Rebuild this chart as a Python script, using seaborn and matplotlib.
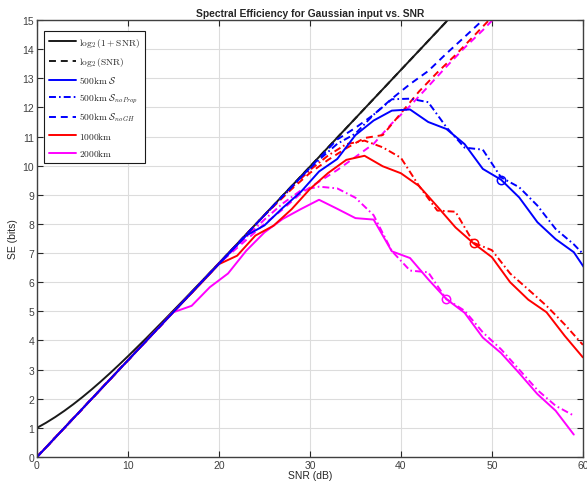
import numpy as np
import pandas as pd
import matplotlib
matplotlib.use("Agg")
import matplotlib.pyplot as plt
import seaborn as sns

# theory curves (SNR in dB)
snr_cap = [0, 1, 2, 3, 4, 5, 6, 7, 8, 9, 10, 12, 14, 16, 18, 20, 25, 30, 35, 40, 45, 46]
se_cap = [1.0, 1.1756, 1.3701, 1.5827, 1.8123, 2.0574, 2.3165, 2.5878, 2.8698, 3.1608,
          3.4594, 4.0746, 4.7071, 5.3509, 6.0022, 6.6582, 8.3094, 9.9672, 11.6272,
          13.2878, 14.9487, 15.2809]
snr_log = [0, 10, 20, 30, 40, 46]
se_log = [0, 3.3219, 6.6439, 9.9658, 13.2877, 15.2808]

# 500 km
snr_500 = [0, 5, 10, 15, 19, 21, 23, 25, 27, 29, 31, 33, 35, 37, 39, 41, 43, 45, 47, 49, 51, 53, 55, 57, 59, 61]
se_500 = [0, 1.66, 3.32, 4.98, 6.30, 6.95, 7.60, 7.95, 8.55, 9.10, 9.80, 10.23, 11.05, 11.55,
          11.89, 11.93, 11.50, 11.26, 10.74, 9.89, 9.52, 8.91, 8.06, 7.48, 7.03, 6.10]
snr_500_noprop = [0, 5, 10, 15, 20, 25, 27, 29, 31, 33, 35, 37, 39, 41, 43, 45, 47, 49, 51, 53, 55, 57, 59, 61]
se_500_noprop = [0, 1.66, 3.32, 4.98, 6.64, 8.3, 8.95, 9.6, 10.2, 10.75, 11.1, 11.75, 12.28,
                 12.3, 12.18, 11.32, 10.62, 10.55, 9.6, 9.26, 8.63, 7.83, 7.3, 6.65]
snr_500_nogh = [0, 5, 10, 15, 20, 25, 27, 29, 31, 33, 35, 37, 39, 41, 43, 45, 47, 49, 51]
se_500_nogh = [0, 1.66, 3.32, 4.98, 6.64, 8.3, 8.95, 9.6, 10.25, 10.9, 11.3, 11.75, 12.3,
               12.8, 13.25, 13.85, 14.42, 15.0, 15.55]

# 1000 km
snr_1000 = [0, 5, 10, 15, 18, 20, 22, 24, 26, 28, 30, 32, 34, 36, 38, 40, 42, 44, 46, 48, 50, 52, 54, 56, 58, 60]
se_1000 = [0, 1.66, 3.32, 4.98, 5.95, 6.62, 6.91, 7.6, 7.94, 8.51, 9.2, 9.75, 10.2, 10.34,
           9.98, 9.74, 9.3, 8.6, 7.88, 7.33, 6.86, 6.0, 5.4, 4.97, 4.16, 3.42]
snr_1000_noprop = [0, 5, 10, 15, 20, 25, 28, 30, 32, 34, 36, 38, 40, 42, 44, 46, 48, 50, 52, 54, 56, 58, 60]
se_1000_noprop = [0, 1.66, 3.32, 4.98, 6.64, 8.3, 9.25, 9.85, 10.35, 10.74, 10.86, 10.63,
                  10.27, 9.3, 8.46, 8.42, 7.35, 7.1, 6.3, 5.75, 5.19, 4.55, 3.85]
snr_1000_nogh = [0, 5, 10, 15, 20, 25, 28, 30, 32, 34, 36, 38, 40, 42, 44, 46, 48, 50]
se_1000_nogh = [0, 1.66, 3.32, 4.98, 6.64, 8.3, 9.2, 9.75, 10.2, 10.6, 10.95, 11.05, 11.8,
                12.55, 13.2, 13.8, 14.45, 15.1]

# 2000 km
snr_2000 = [0, 5, 10, 15, 17, 19, 21, 23, 25, 27, 29, 31, 33, 35, 37, 39, 41, 43, 45, 47, 49, 51, 53, 55, 57, 59]
se_2000 = [0, 1.66, 3.32, 4.97, 5.19, 5.83, 6.3, 7.08, 7.71, 8.17, 8.51, 8.83, 8.52, 8.2,
           8.15, 7.06, 6.83, 6.1, 5.42, 4.95, 4.1, 3.57, 2.88, 2.16, 1.59, 0.77]
snr_2000_noprop = [0, 5, 10, 15, 20, 23, 25, 27, 29, 31, 33, 35, 37, 39, 41, 43, 45, 47, 49, 51, 53, 55, 57, 59]
se_2000_noprop = [0, 1.66, 3.32, 4.98, 6.64, 7.55, 8.15, 8.7, 9.15, 9.28, 9.22, 8.9, 8.3,
                  7.07, 6.4, 6.34, 5.42, 5.02, 4.28, 3.7, 3.0, 2.3, 1.76, 1.42]
snr_2000_nogh = [0, 5, 10, 15, 20, 23, 25, 27, 29, 31, 33, 35, 37, 39, 41, 43, 45, 47, 49, 51]
se_2000_nogh = [0, 1.66, 3.32, 4.98, 6.64, 7.45, 8.0, 8.5, 9.05, 9.45, 9.85, 10.3, 10.75,
                11.45, 12.05, 12.72, 13.4, 14.05, 14.65, 15.3]

# circled points
mark_snr = [51, 48, 45]
mark_se = [9.52, 7.33, 5.42]
mark_col = ["#0000ff", "#ff0000", "#ff00ff"]

sns.set_theme(style="ticks")
plt.rcParams["font.family"] = ["Liberation Sans", "DejaVu Sans"]
plt.rcParams["mathtext.fontset"] = "cm"
plt.rcParams["lines.scale_dashes"] = False
plt.rcParams["lines.dashed_pattern"] = [5, 3.5]
plt.rcParams["lines.dashdot_pattern"] = [5, 2.2, 1.2, 2.2]

fig = plt.figure(figsize=(5.87, 4.89), dpi=100)
ax = fig.add_axes([0.063, 0.0634, 0.930, 0.8936])

lw = 1.4
blue, red, mag = "#0000ff", "#ff0000", "#ff00ff"
series = [
    (snr_cap, se_cap, "k", "-", r"$\log_2(1+\mathrm{SNR})$"),
    (snr_log, se_log, "k", "--", r"$\log_2(\mathrm{SNR})$"),
    (snr_500, se_500, blue, "-", r"$\mathrm{500km}\ \mathcal{S}$"),
    (snr_500_noprop, se_500_noprop, blue, "-.", r"$\mathrm{500km}\ \mathcal{S}_{noProp}$"),
    (snr_500_nogh, se_500_nogh, blue, "--", r"$\mathrm{500km}\ \mathcal{S}_{noGH}$"),
    (snr_1000, se_1000, red, "-", r"$\mathrm{1000km}$"),
    (snr_1000_noprop, se_1000_noprop, red, "-.", None),
    (snr_1000_nogh, se_1000_nogh, red, "--", None),
    (snr_2000, se_2000, mag, "-", r"$\mathrm{2000km}$"),
    (snr_2000_noprop, se_2000_noprop, mag, "-.", None),
    (snr_2000_nogh, se_2000_nogh, mag, "--", None),
]
order = [0, 1, 9, 10, 6, 7, 3, 4, 8, 5, 2]
handles = {}
for i in order:
    x, y, c, ls, lab = series[i]
    d = pd.DataFrame({"snr": x, "se": y})
    sns.lineplot(data=d, x="snr", y="se", color=c, linestyle=ls, lw=lw,
                 sort=False, estimator=None, ax=ax)
    if lab is not None:
        handles[i] = (ax.lines[-1], lab)

for xs, ys, c in zip(mark_snr, mark_se, mark_col):
    ax.plot([xs], [ys], "o", mfc="none", mec=c, ms=6, mew=1.1)

ax.set_xlim(0, 60)
ax.set_ylim(0, 15)
ax.set_xticks(range(0, 61, 10))
ax.set_yticks(range(0, 16))
ax.grid(True, color="#dcdcdc", lw=0.8)
ax.set_axisbelow(True)
ax.tick_params(direction="in", top=True, right=True, length=4, width=0.8,
               labelsize=7.5, colors="#262626", labelcolor="#404040", pad=2)
for s in ax.spines.values():
    s.set_color("#404040")
    s.set_linewidth(1.0)

ax.set_title("Spectral Efficiency for Gaussian input vs. SNR", fontsize=7.4,
             fontweight="bold", pad=3)
ax.set_xlabel("SNR (dB)", fontsize=7.5, labelpad=0, color="#262626")
ax.set_ylabel("SE (bits)", fontsize=7.5, labelpad=3, color="#262626")

keys = [0, 1, 2, 3, 4, 5, 8]
leg = ax.legend([handles[k][0] for k in keys], [handles[k][1] for k in keys],
                loc="upper left", bbox_to_anchor=(0.013, 0.975), fontsize=6.8,
                frameon=True, fancybox=False, framealpha=1, edgecolor="k",
                handlelength=2.9, labelspacing=0.66, borderpad=0.5, handletextpad=0.3,
                borderaxespad=0.0)
leg.get_frame().set_linewidth(0.8)

fig.savefig("out.png", dpi=100)
